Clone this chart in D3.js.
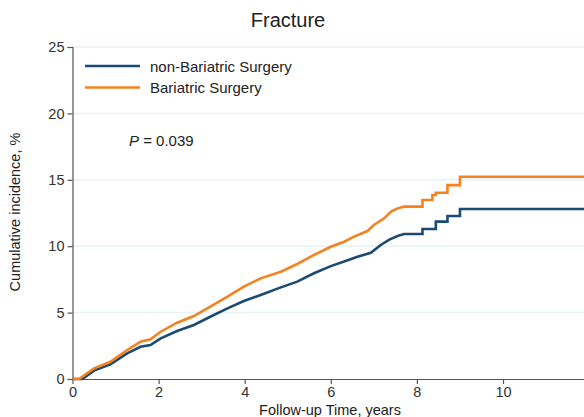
<!DOCTYPE html>
<html><head><meta charset="utf-8">
<script src="https://cdn.jsdelivr.net/npm/d3@7"></script>
<style>body{margin:0;background:#fff;}svg{display:block;font-family:"Liberation Sans",Arial,sans-serif;}</style>
</head><body><svg id="c" width="584" height="417"></svg>
<script>
const title = "Fracture";
const seriesNames = ["non-Bariatric Surgery", "Bariatric Surgery"];
const seriesColors = ["#1b4a73", "#f5821f"];
const xTicks = [0, 2, 4, 6, 8, 10];
const yTicks = [0, 5, 10, 15, 20, 25];
const pText = "0.039";

// follow-up time (years) and cumulative incidence (%)
const nonBariTime = [0, 0.23, 0.5, 0.88, 1.27, 1.58, 1.81, 2.05, 2.43, 2.82, 3.2, 3.6, 3.98, 4.37, 4.84, 5.22, 5.61, 6.0, 6.31, 6.62, 6.93, 7.16, 7.36, 7.55, 7.7, 8.13, 8.13, 8.44, 8.44, 8.71, 8.71, 9.0, 9.0, 12];
const nonBariVal  = [0, 0, 0.63, 1.1, 1.93, 2.43, 2.56, 3.06, 3.61, 4.07, 4.69, 5.32, 5.87, 6.33, 6.9, 7.33, 7.96, 8.5, 8.84, 9.2, 9.5, 10.09, 10.5, 10.77, 10.92, 10.92, 11.3, 11.3, 11.85, 11.85, 12.27, 12.27, 12.8, 12.8];
const bariTime = [0, 0.15, 0.5, 0.88, 1.27, 1.58, 1.81, 2.05, 2.43, 2.82, 3.2, 3.6, 3.98, 4.37, 4.84, 5.22, 5.61, 6.0, 6.31, 6.54, 6.85, 7.0, 7.24, 7.4, 7.55, 7.7, 8.13, 8.13, 8.36, 8.36, 8.44, 8.44, 8.71, 8.71, 9.0, 9.0, 12];
const bariVal  = [0, 0, 0.8, 1.3, 2.18, 2.81, 2.99, 3.56, 4.24, 4.74, 5.45, 6.2, 6.95, 7.58, 8.08, 8.66, 9.34, 9.96, 10.34, 10.72, 11.14, 11.6, 12.1, 12.6, 12.85, 12.98, 12.98, 13.48, 13.48, 13.86, 13.86, 14.03, 14.03, 14.6, 14.6, 15.23, 15.23];

const svg = d3.select("#c");
const m = {l: 72.5, t: 47, b: 379};
const x = d3.scaleLinear().domain([0, 12]).range([m.l, m.l + 12 * 43.05]);
const y = d3.scaleLinear().domain([0, 25]).range([m.b, m.t]);

svg.append("defs").append("clipPath").attr("id", "clip")
  .append("rect").attr("x", m.l).attr("y", 0).attr("width", 584 - m.l).attr("height", m.b + 2);

// gridlines
svg.append("g").selectAll("line").data(yTicks.filter(d => d > 0)).join("line")
  .attr("x1", m.l).attr("x2", 584).attr("y1", d => y(d)).attr("y2", d => y(d))
  .attr("stroke", "#eaf2f3").attr("stroke-width", 1.5);

// axes
const yAxis = svg.append("g").attr("transform", `translate(${m.l},0)`)
  .call(d3.axisLeft(y).tickValues(yTicks).tickSize(5).tickPadding(3));
const xAxis = svg.append("g").attr("transform", `translate(0,${m.b})`)
  .call(d3.axisBottom(x).tickValues(xTicks).tickSize(5).tickPadding(3));
[xAxis, yAxis].forEach(a => {
  a.selectAll("path,line").attr("stroke", "#555").attr("stroke-width", 1.2);
  a.selectAll("text").attr("fill", "#333").style("font-size", "14.5px").style("font-family", "Liberation Sans, Arial, sans-serif");
});
xAxis.select("path.domain").attr("d", `M${m.l},0.5H584`);

// lines
const line = d3.line().x(d => x(d[0])).y(d => y(d[1]));
const series = [
  d3.zip(nonBariTime, nonBariVal),
  d3.zip(bariTime, bariVal)
];
svg.append("g").attr("clip-path", "url(#clip)").selectAll("path").data(series).join("path")
  .attr("d", line).attr("fill", "none")
  .attr("stroke", (d, i) => seriesColors[i]).attr("stroke-width", 2.6)
  .attr("stroke-linejoin", "miter");

// title
svg.append("text").attr("x", 288).attr("y", 27).attr("text-anchor", "middle")
  .style("font-size", "20px").attr("fill", "#222").text(title);

// axis titles
svg.append("text").attr("x", 330).attr("y", 415).attr("text-anchor", "middle")
  .style("font-size", "14.5px").attr("fill", "#222").text("Follow-up Time, years");
svg.append("text").attr("transform", "translate(20,212) rotate(-90)").attr("text-anchor", "middle")
  .style("font-size", "14.5px").attr("fill", "#222").text("Cumulative incidence, %");

// legend
const lg = svg.append("g");
seriesNames.forEach((n, i) => {
  const yy = 66 + i * 21.5;
  lg.append("line").attr("x1", 85).attr("x2", 140).attr("y1", yy).attr("y2", yy)
    .attr("stroke", seriesColors[i]).attr("stroke-width", 2.6);
  lg.append("text").attr("x", 150).attr("y", yy + 5.5).style("font-size", "15px").attr("fill", "#222").text(n);
});

// p-value
const pt = svg.append("text").attr("x", 129).attr("y", 146).style("font-size", "15px").attr("fill", "#222");
pt.append("tspan").style("font-style", "italic").text("P");
pt.append("tspan").text(" = " + pText);
</script></body></html>
